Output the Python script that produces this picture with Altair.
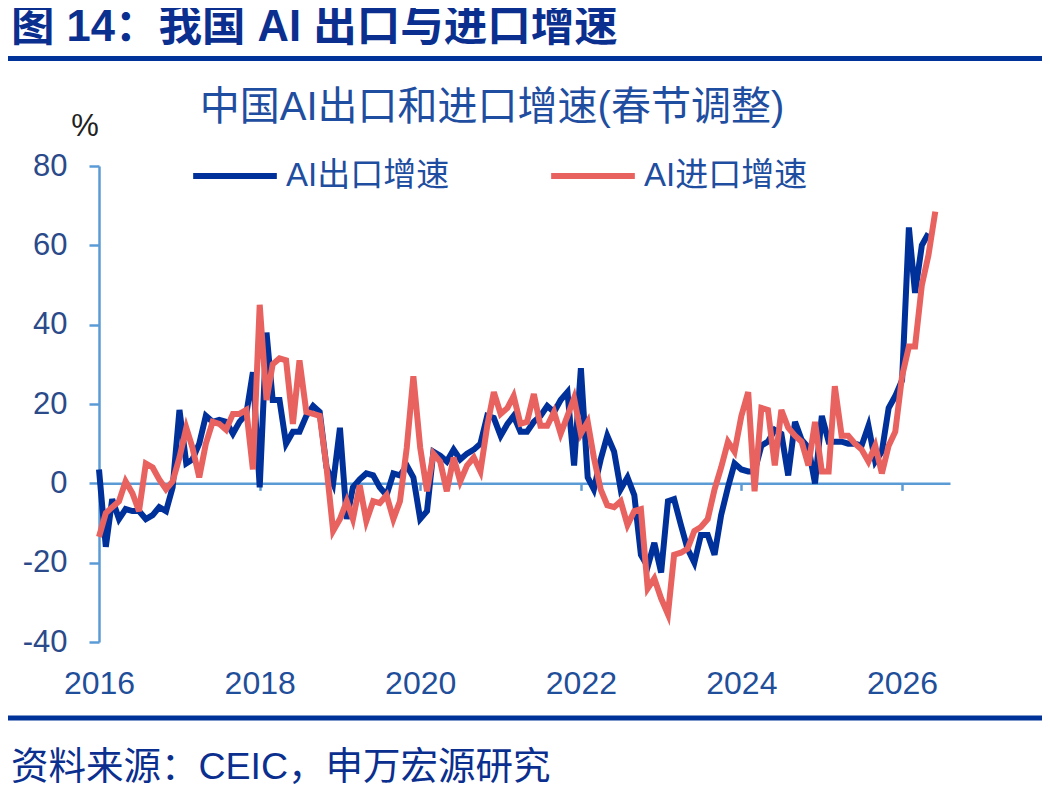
import pandas as pd
import altair as alt

FONT = "Liberation Sans, Noto Sans CJK SC, sans-serif"
NAVY = "#0b2f8f"
AXIS_BLUE = "#5b9bd5"

# AI export / import growth (%), monthly from Jan 2016, Spring Festival adjusted
export_growth = [
    3.5, -16, -4, -9, -6.5, -7, -7, -9, -8, -6, -7, -1,
    18.5, 5, 6, 10, 17, 15.5, 16, 15.5, 12.5, 15.5, 17.5, 28,
    -1, 38, 21, 21, 10, 13, 13, 17, 19.5, 18, 4, 0,
    14, -9, -1, 1, 2.5, 2, -1, -3, 2.5, 2, 4.5, 1.5,
    -9, -7, 8, 7, 5.5, 8.5, 6, 7.5, 8.5, 10, 17, 16.5,
    12, 15, 17, 13, 13, 15.5, 17, 19.5, 18, 21, 23, 4.5,
    29, 1.5, -1.5, 6, 12, 8, -1.5, 1.5, -3, -18, -21, -15,
    -22.5, -4.5, -4, -10.5, -16.5, -20, -13, -13, -18, -8, -1, 5,
    3.5, 3, 3, 9.5, 10.5, 13.5, 12.5, 2, 15.5, 11, 9, 0,
    17, 10.5, 10.5, 10.5, 10, 10, 9.5, 14.5, 5.5, 8, 19, 22,
    26, 64.5, 48, 60, 63,
]
import_growth = [
    -13.5, -7.5, -6, -4.5, 0.5, -2.5, -7, 5, 4, 1, -1.5, 0.5,
    6.5, 14, 9, 1.5, 10, 15.5, 15, 13.5, 17.5, 17.5, 18.5, 3.5,
    45, 21, 30, 31.5, 31, 15, 31, 18, 17.5, 17, 4, -12,
    -9, -4.5, -9, -0.5, -9.5, -4.5, -5, -3, -9, -4.5, 9, 27,
    9, -2, 7.5, 5.5, -2, 6.5, 0.5, 4.5, 6.5, 3, 14.5, 23,
    17.5, 19, 22, 15, 15.5, 22.5, 14.5, 14.5, 18, 12.5, 17, 21.5,
    12.5, 15.5, 6.5, -1.5, -5.5, -6, -4.5, -10.5, -7, -6.5, -26.5, -24,
    -29, -33, -18, -17.5, -16.5, -12, -11, -9, -1.5, 4, 10.5, 8,
    17, 23, -2, 19, 18.5, 4.5, 18.5, 14, 12, 10.5, 4.5, 15.5,
    3, 3, 24.5, 12, 12, 10, 8.5, 5.5, 9.5, 2.5, 9.5, 13,
    27, 34.5, 34.5, 50, 57.5, 68.5,
]

series_names = ["AI出口增速", "AI进口增速"]
series_colors = ["#00309a", "#e8625f"]
year_ticks = [2016, 2018, 2020, 2022, 2024, 2026]
y_ticks = [-40, -20, 0, 20, 40, 60, 80]


def monthly(values, name):
    return pd.DataFrame(
        {
            "date": pd.date_range("2016-01-01", periods=len(values), freq="MS"),
            "value": values,
            "series": name,
        }
    )


df = pd.concat([monthly(export_growth, series_names[0]), monthly(import_growth, series_names[1])])

W, H = 851, 476
zero_offset = -H * 40 / 120  # x axis sits on the zero line

lines = (
    alt.Chart(df)
    .mark_line(strokeWidth=6)
    .encode(
        x=alt.X(
            "date:T",
            scale=alt.Scale(
                domain=[alt.DateTime(year=2016, month=1, date=1), alt.DateTime(year=2026, month=8, date=7)]
            ),
            axis=alt.Axis(
                values=[alt.DateTime(year=y, month=1, date=1) for y in year_ticks],
                format="%Y",
                title=None,
                offset=zero_offset,
                domainColor=AXIS_BLUE,
                domainWidth=2.5,
                tickColor=AXIS_BLUE,
                tickWidth=2.5,
                tickSize=7,
                labelPadding=178,
                labelFlush=False,
                labelFont=FONT,
                labelFontSize=32,
                labelColor="#1f4e9a",
                grid=False,
            ),
        ),
        y=alt.Y(
            "value:Q",
            scale=alt.Scale(domain=[-40, 80], nice=False),
            axis=alt.Axis(
                values=y_ticks,
                title=None,
                labelExpr="replace(datum.label, '\u2212', '-')",
                domainColor=AXIS_BLUE,
                domainWidth=2.5,
                tickColor=AXIS_BLUE,
                tickWidth=2.5,
                tickSize=10,
                labelPadding=22,
                labelFont=FONT,
                labelFontSize=31,
                labelColor="#2a4a8a",
                grid=False,
            ),
        ),
        color=alt.Color(
            "series:N",
            sort=series_names,
            scale=alt.Scale(domain=series_names, range=series_colors),
            legend=alt.Legend(
                title=None,
                orient="none",
                direction="horizontal",
                legendX=91,
                legendY=-35,
                symbolType="stroke",
                symbolSize=7000,
                symbolStrokeWidth=6,
                labelFont=FONT,
                labelFontSize=33,
                labelColor="#1f4ea0",
                labelOffset=6,
                labelLimit=400,
                columnPadding=89,
            ),
        ),
    )
)


def text_at(text, x, y, size, color=NAVY, weight="normal", align="left"):
    return (
        alt.Chart(pd.DataFrame({"t": [text]}))
        .mark_text(font=FONT, fontSize=size, fontWeight=weight, color=color, align=align, baseline="middle")
        .encode(text="t:N", x=alt.value(x), y=alt.value(y))
    )


def band_rule(y):
    return (
        alt.Chart(pd.DataFrame({"k": [0]}))
        .mark_rule(color="#003399", strokeWidth=5)
        .encode(x=alt.value(-94), x2=alt.value(946), y=alt.value(y))
    )


title = text_at("图 14：我国 AI 出口与进口增速", -88, -138, 43.5, weight="bold")
subtitle = text_at("中国AI出口和进口增速(春节调整)", 393, -58, 40, color="#1f4ea0", align="center")
unit = text_at("%", -14, -39, 31, color="#222222", align="center")
source = text_at("资料来源：CEIC，申万宏源研究", -88, 602, 37.5)

chart = alt.layer(
    lines, title, subtitle, unit, source, band_rule(-107.5), band_rule(552)
).properties(
    width=W,
    height=H,
    padding={"left": 91, "top": 158, "right": 92, "bottom": 142},
    autosize=alt.AutoSizeParams(type="none"),
).configure_view(strokeWidth=0)

chart.save("out.html", embed_options={"renderer": "svg", "actions": False})
